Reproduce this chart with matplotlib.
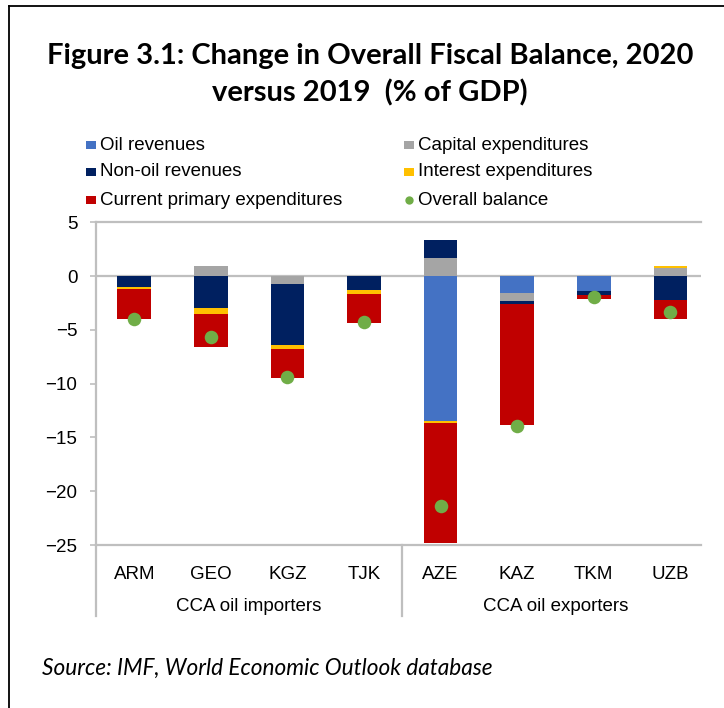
import matplotlib
matplotlib.use("Agg")
import matplotlib.pyplot as plt
import numpy as np
from matplotlib.patches import Rectangle
from matplotlib.lines import Line2D
import matplotlib.transforms as mtransforms

# data (% of GDP, contributions to change in overall balance)
countries = ["ARM", "GEO", "KGZ", "TJK", "AZE", "KAZ", "TKM", "UZB"]
groups = ["CCA oil importers", "CCA oil exporters"]
oil_rev = [0, 0, 0, 0, -13.45, -1.6, -1.4, 0]
capital_exp = [0, 0.93, -0.75, 0, 1.65, -0.7, 0, 0.75]
nonoil_rev = [-1.0, -3.0, -5.65, -1.25, 1.75, -0.3, -0.4, -2.2]
interest_exp = [-0.22, -0.5, -0.4, -0.43, -0.22, 0, 0, 0.21]
current_exp = [-2.75, -3.1, -2.7, -2.7, -11.1, -11.2, -0.35, -1.8]
balance = [-3.95, -5.7, -9.35, -4.3, -21.35, -13.9, -1.95, -3.3]

C_OIL = "#4472C4"
C_NONOIL = "#002060"
C_CURR = "#C00000"
C_CAP = "#A5A5A5"
C_INT = "#FFC000"
C_BAL = "#70AD47"
GRID = "#BFBFBF"

W, H = 724, 708
fig = plt.figure(figsize=(W / 100, H / 100), dpi=100)

def fx(x):
    return x / W

def fy(y):
    return 1 - y / H

narrow = ["Liberation Sans Narrow", "Liberation Sans", "DejaVu Sans"]

# frame around the whole figure (left + top)
fig.add_artist(Line2D([fx(9), fx(9)], [fy(6), 0], color="black", lw=1.3))
fig.add_artist(Line2D([fx(9), 1], [fy(6), fy(6)], color="black", lw=1.3))

# title
fig.text(fx(370), fy(56), "Figure 3.1: Change in Overall Fiscal Balance, 2020",
         ha="center", va="center", fontsize=21, fontweight="bold", family="Lato")
fig.text(fx(370), fy(93), "versus 2019  (% of GDP)",
         ha="center", va="center", fontsize=21, fontweight="bold", family="Lato")

# axes
ax = fig.add_axes([fx(96), fy(545), fx(701) - fx(96), fy(222.3) - fy(545)])
x = np.arange(len(countries))
width = 0.44

# stacking order seen in the bars
series = [
    (oil_rev, C_OIL),
    (capital_exp, C_CAP),
    (nonoil_rev, C_NONOIL),
    (interest_exp, C_INT),
    (current_exp, C_CURR),
]
pos = np.zeros(len(countries))
neg = np.zeros(len(countries))
for vals, col in series:
    v = np.array(vals, dtype=float)
    bottom = np.where(v >= 0, pos, neg)
    ax.bar(x, v, width, bottom=bottom, color=col, edgecolor="none", zorder=2)
    pos = pos + np.where(v >= 0, v, 0)
    neg = neg + np.where(v < 0, v, 0)

ax.scatter(x, balance, s=95, color=C_BAL, zorder=4, linewidths=0)

ax.set_xlim(-0.5, 7.4)
ax.set_ylim(-25, 5)
ax.axhline(0, color=GRID, lw=1.6, zorder=1)

ax.set_yticks([5, 0, -5, -10, -15, -20, -25])
ax.set_yticklabels(["5", "0", "\u22125", "\u221210", "\u221215", "\u221220", "\u221225"])
ax.tick_params(axis="y", direction="out", length=4.5, width=1.2, color=GRID, pad=9,
               labelsize=13.5)
for lab in ax.get_yticklabels():
    lab.set_family(narrow)

ax.set_xticks(x)
ax.set_xticklabels(countries)
ax.tick_params(axis="x", length=0, pad=15, labelsize=13.5)
for lab in ax.get_xticklabels():
    lab.set_family(narrow)

for side in ["top", "left", "bottom"]:
    ax.spines[side].set_color(GRID)
    ax.spines[side].set_linewidth(1.6)
ax.spines["right"].set_visible(False)

# group separators and labels
trans = mtransforms.blended_transform_factory(ax.transData, ax.transAxes)
for xs in [-0.5, 3.5]:
    ax.plot([xs, xs], [0, -0.22], transform=trans, color=GRID, lw=1.6, clip_on=False)
ax.text(1.5, -0.19, groups[0], transform=trans, ha="center", va="center",
        fontsize=13.5, family=narrow)
ax.text(5.5, -0.19, groups[1], transform=trans, ha="center", va="center",
        fontsize=13.5, family=narrow)

# legend, drawn by hand in two columns
legend_items = [
    ("Oil revenues", C_OIL, "sq", 0, 0),
    ("Non-oil revenues", C_NONOIL, "sq", 0, 1),
    ("Current primary expenditures", C_CURR, "sq", 0, 2),
    ("Capital expenditures", C_CAP, "sq", 1, 0),
    ("Interest expenditures", C_INT, "sq", 1, 1),
    ("Overall balance", C_BAL, "dot", 1, 2),
]
col_x = [96, 414]
row_y = [145, 172, 200]
for label, col, kind, c, r in legend_items:
    mx = col_x[c]
    my = row_y[r]
    if kind == "sq":
        fig.add_artist(Rectangle((fx(mx - 10), fy(my + 4)), 10 / W, 8 / H,
                                 facecolor=col, edgecolor="none"))
    else:
        fig.add_artist(Line2D([fx(mx - 5)], [fy(my)], marker="o", markersize=6,
                              color=col, markeredgewidth=0))
    fig.text(fx(mx + 4), fy(my), label, ha="left", va="center", fontsize=13.5,
             family=narrow)

# source
fig.text(fx(42), fy(668), "Source: IMF, World Economic Outlook database",
         ha="left", va="center", fontsize=16.3, style="italic", family="Lato")

fig.savefig("out.png", dpi=100)
